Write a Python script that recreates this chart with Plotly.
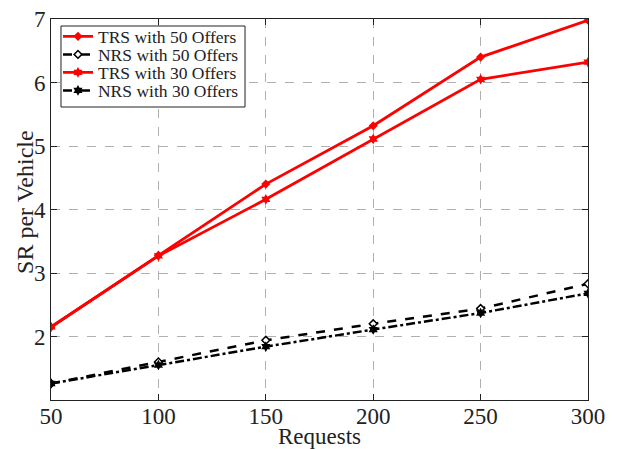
import plotly.graph_objects as go

requests = [50, 100, 150, 200, 250, 300]
trs_50 = [2.15, 3.28, 4.40, 5.32, 6.40, 6.98]
nrs_50 = [1.26, 1.60, 1.94, 2.20, 2.44, 2.83]
trs_30 = [2.15, 3.27, 4.16, 5.11, 6.05, 6.32]
nrs_30 = [1.26, 1.55, 1.84, 2.11, 2.37, 2.68]
y_ticks = [2, 3, 4, 5, 6, 7]

fig = go.Figure()
fig.add_trace(go.Scatter(x=requests, y=trs_50, name="TRS with 50 Offers", mode="lines+markers",
                         line=dict(color="red", width=2.8, dash="solid"), legend="legend",
                         marker=dict(symbol="diamond", size=7, color="red")))
fig.add_trace(go.Scatter(x=requests, y=nrs_50, name="NRS with 50 Offers", mode="lines+markers",
                         line=dict(color="black", width=2.5, dash="dash"), legend="legend2",
                         marker=dict(symbol="diamond", size=6, color="white", line=dict(color="black", width=1.5))))
fig.add_trace(go.Scatter(x=requests, y=trs_30, name="TRS with 30 Offers", mode="lines+markers",
                         line=dict(color="red", width=2.8, dash="solid"), legend="legend3",
                         marker=dict(symbol="hexagram", size=8, color="red")))
fig.add_trace(go.Scatter(x=requests, y=nrs_30, name="NRS with 30 Offers", mode="lines+markers",
                         line=dict(color="black", width=2.5, dash="dashdot"), legend="legend4",
                         marker=dict(symbol="hexagram", size=8, color="black")))

axis_common = dict(showline=True, linecolor="#222222", linewidth=1, mirror="ticks",
                   ticks="inside", ticklen=6, tickcolor="#222222",
                   showgrid=True, gridcolor="#b0b0b0", griddash="dash", gridwidth=1,
                   zeroline=False, automargin=False, tickfont=dict(size=23, color="#222222"))

leg_common = dict(xanchor="left", yanchor="middle", bgcolor="rgba(0,0,0,0)", borderwidth=0,
                  font=dict(size=17.5, color="#222222"), itemwidth=30)
row_y = [0.9541, 0.9068, 0.8596, 0.8123]
leg_x = 0.013

fig.update_layout(
    width=618, height=449,
    margin=dict(l=51, r=30, t=19, b=49),
    paper_bgcolor="white", plot_bgcolor="white",
    font=dict(family="Liberation Serif", color="#222222"),
    xaxis=dict(range=[50, 300], tickvals=requests, ticklabelstandoff=-5,
               title=dict(text="Requests", font=dict(size=23)), **axis_common),
    yaxis=dict(range=[1, 7], tickvals=y_ticks, **axis_common),
    legend=dict(x=leg_x, y=row_y[0], **leg_common),
    legend2=dict(x=leg_x, y=row_y[1], **leg_common),
    legend3=dict(x=leg_x, y=row_y[2], **leg_common),
    legend4=dict(x=leg_x, y=row_y[3], **leg_common),
    showlegend=True,
    shapes=[dict(type="rect", xref="paper", yref="paper", x0=0.0186, x1=0.3613, y0=0.769, y1=0.9816,
                 fillcolor="white", line=dict(color="#222222", width=1), layer="above")],
    annotations=[dict(text="SR per Vehicle", xref="paper", yref="paper", x=-0.0484, y=0.52,
                      xanchor="center", yanchor="middle", textangle=-90, showarrow=False,
                      font=dict(size=24, color="#222222"))],
)
fig.write_html("out.html", post_script="document.body.style.margin='0px';",
               config={"displayModeBar": False})
